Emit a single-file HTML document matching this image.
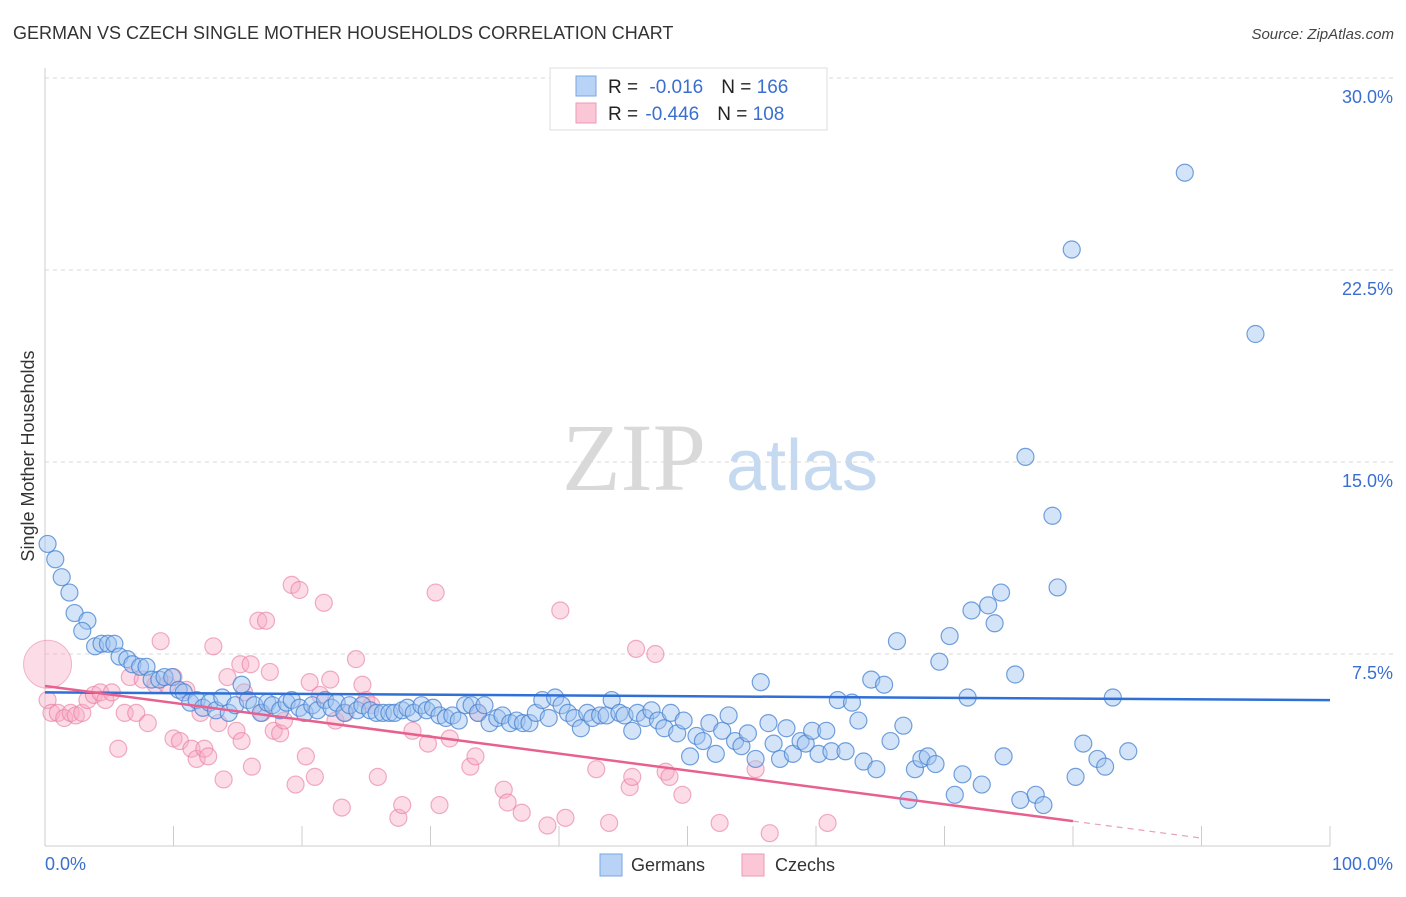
<!DOCTYPE html>
<html><head><meta charset="utf-8"><style>
body{margin:0;background:#fff;font-family:"Liberation Sans",sans-serif}
</style></head><body>
<svg id="chart" width="1406" height="892" xmlns="http://www.w3.org/2000/svg" font-family="Liberation Sans, sans-serif">
<text x="13" y="39" font-size="18" fill="#333">GERMAN VS CZECH SINGLE MOTHER HOUSEHOLDS CORRELATION CHART</text>
<text x="1394" y="39" font-size="15" fill="#444" text-anchor="end" font-style="italic">Source: ZipAtlas.com</text>
<text transform="translate(34,456) rotate(-90)" font-size="18" fill="#333" text-anchor="middle">Single Mother Households</text>
<g>
<text x="634" y="490" font-size="96" fill="#d9d9d9" font-family="Liberation Serif, serif" text-anchor="middle">ZIP</text>
<text x="802" y="490" font-size="72" fill="#c5d9f0" text-anchor="middle">atlas</text>
</g>
<g id="grid"></g><g id="axes"></g><g id="pink"></g><g id="blue"></g><g id="trends"></g>
<g>
<rect x="550" y="68" width="277" height="62" fill="#fff" stroke="#ddd"/>
<rect x="576" y="76" width="20" height="20" fill="#b8d3f5" stroke="#7aa6e0"/>
<rect x="576" y="103" width="20" height="20" fill="#fbc7d6" stroke="#ee9ab5"/>
<text x="608" y="93" font-size="19" fill="#222">R = <tspan fill="#3a6fd0" dx="6">-0.016</tspan><tspan dx="18">N = </tspan><tspan fill="#3a6fd0">166</tspan></text>
<text x="608" y="120" font-size="19" fill="#222">R = <tspan fill="#3a6fd0" dx="2">-0.446</tspan><tspan dx="18">N = </tspan><tspan fill="#3a6fd0">108</tspan></text>
</g>
<g>
<rect x="600" y="854" width="22" height="22" fill="#b8d3f5" stroke="#7aa6e0"/>
<text x="631" y="871" font-size="18" fill="#333">Germans</text>
<rect x="742" y="854" width="22" height="22" fill="#fbc7d6" stroke="#ee9ab5"/>
<text x="775" y="871" font-size="18" fill="#333">Czechs</text>
</g>
</svg>
<script>
const yTicks=[7.5,15,22.5,30];
const yTickLabels=["7.5%","15.0%","22.5%","30.0%"];
const xLabels=["0.0%","100.0%"];
const blueX=[0.2,0.8,1.3,1.9,2.3,3.3,2.9,3.9,4.4,4.9,5.4,5.8,6.4,6.8,7.4,7.9,8.3,8.9,9.3,9.9,10.4,10.8,11.3,11.8,12.3,12.8,13.3,13.8,14.3,14.8,15.3,15.8,16.3,16.8,17.3,17.7,18.3,18.8,19.2,19.8,20.2,20.8,21.2,21.8,22.3,22.7,23.3,23.7,24.3,24.7,25.3,25.8,26.3,26.8,27.2,27.8,28.2,28.7,29.3,29.7,30.2,30.7,31.2,31.7,32.2,32.7,33.2,33.7,34.2,34.6,35.2,35.6,36.2,36.7,37.2,37.7,38.2,38.7,39.2,39.7,40.2,40.7,41.2,41.7,42.2,42.6,43.2,43.7,44.1,44.7,45.1,45.7,46.1,46.7,47.2,47.7,48.2,48.7,49.2,49.7,50.2,50.7,51.2,51.7,52.2,52.7,53.2,53.7,54.2,54.7,55.3,55.7,56.3,56.7,57.2,57.7,58.2,58.8,59.2,59.7,60.2,60.8,61.2,61.7,62.3,62.8,63.3,63.7,64.3,64.7,65.3,65.8,66.3,66.8,67.2,67.7,68.2,68.7,69.3,69.6,70.4,70.8,71.4,71.8,72.1,72.9,73.4,73.9,74.4,74.6,75.5,75.9,76.3,77.1,77.7,78.4,78.8,80.2,80.8,81.9,82.5,83.1,84.3,79.9,88.7,94.2];
const blueY=[11.8,11.2,10.5,9.9,9.1,8.8,8.4,7.8,7.9,7.9,7.9,7.4,7.3,7.1,7.0,7.0,6.5,6.5,6.6,6.6,6.1,6.0,5.6,5.7,5.4,5.6,5.3,5.8,5.2,5.5,6.3,5.7,5.5,5.2,5.6,5.5,5.3,5.6,5.7,5.4,5.2,5.5,5.3,5.7,5.4,5.6,5.2,5.5,5.3,5.5,5.3,5.2,5.2,5.2,5.2,5.3,5.4,5.2,5.5,5.3,5.4,5.1,5.0,5.1,4.9,5.5,5.5,5.2,5.5,4.8,5.0,5.1,4.8,4.9,4.8,4.8,5.2,5.7,5.0,5.8,5.5,5.2,5.0,4.6,5.2,5.0,5.1,5.1,5.7,5.2,5.1,4.5,5.2,5.0,5.3,4.9,4.6,5.2,4.4,4.9,3.5,4.3,4.1,4.8,3.6,4.5,5.1,4.1,3.9,4.4,3.4,6.4,4.8,4.0,3.4,4.6,3.6,4.1,4.0,4.5,3.6,4.5,3.7,5.7,3.7,5.6,4.9,3.3,6.5,3.0,6.3,4.1,8.0,4.7,1.8,3.0,3.4,3.5,3.2,7.2,8.2,2.0,2.8,5.8,9.2,2.4,9.4,8.7,9.9,3.5,6.7,1.8,15.2,2.0,1.6,12.9,10.1,2.7,4.0,3.4,3.1,5.8,3.7,23.3,26.3,20.0];
const pinkX=[0.2,0.5,1.0,1.5,2.0,2.4,2.9,3.3,3.8,4.3,4.7,5.2,5.7,6.2,6.6,7.1,7.6,8.0,8.6,9.0,9.5,10.0,10.0,10.5,11.0,11.4,11.8,12.1,12.4,12.7,13.1,13.5,13.9,14.2,14.9,15.3,15.2,15.5,16.0,16.1,16.6,17.2,16.9,17.5,17.8,18.3,18.6,19.2,19.8,19.5,20.3,20.6,21.0,21.4,21.7,22.2,22.6,23.1,23.4,24.2,24.7,25.0,25.4,25.9,27.5,27.8,28.6,29.8,30.4,30.7,31.5,33.1,33.5,33.7,35.7,36.0,37.1,39.1,40.1,40.5,42.9,43.9,45.5,45.7,46.0,47.5,48.3,48.6,49.6,52.5,55.3,56.4,60.9];
const pinkY=[5.7,5.2,5.2,5.0,5.2,5.1,5.2,5.7,5.9,6.0,5.7,6.0,3.8,5.2,6.6,5.2,6.5,4.8,6.3,8.0,6.3,6.6,4.2,4.1,6.1,3.8,3.4,5.2,3.8,3.5,7.8,4.8,2.6,6.6,4.5,4.1,7.1,6.0,7.1,3.1,8.8,8.8,5.2,6.8,4.5,4.4,4.9,10.2,10.0,2.4,3.5,6.4,2.7,5.9,9.5,6.5,4.9,1.5,5.2,7.3,6.3,5.7,5.5,2.7,1.1,1.6,4.5,4.0,9.9,1.6,4.2,3.1,3.5,5.2,2.2,1.7,1.3,0.8,9.2,1.1,3.0,0.9,2.3,2.7,7.7,7.5,2.9,2.7,2.0,0.9,3.0,0.5,0.9];
const bigPinkX=[0.2], bigPinkY=[7.1];
const blueTrend=[6.0,5.7];          // y at x=0 and x=100
const pinkTrend=[6.25,-0.35];       // y at x=0 and x=100
const pinkSolidEnd=80, pinkDashEnd=90;

const X0=45,X1=1330,Y0=846,PX=25.6;
const sx=v=>X0+(X1-X0)*v/100;
const sy=v=>Y0-v*PX;
const NS="http://www.w3.org/2000/svg";
function mk(tag,attrs,parent){const e=document.createElementNS(NS,tag);for(const k in attrs)e.setAttribute(k,attrs[k]);parent.appendChild(e);return e;}
const grid=document.getElementById('grid'),axes=document.getElementById('axes');
yTicks.forEach((t,i)=>{
  const l=mk('line',{x1:X0,x2:1394,y1:sy(t),y2:sy(t),stroke:'#d8d8d8','stroke-dasharray':'4,4'},grid);
  
  
  const tx=mk('text',{x:1393,y:sy(t)+25,'font-size':18,fill:'#3a6fd0','text-anchor':'end'},grid);
  tx.textContent=yTickLabels[i];
  
  
});
const ya=mk('line',{x1:X0,x2:X0,y1:68,y2:Y0,stroke:'#ccc'},axes);


const xa=mk('line',{x1:X0,x2:X1,y1:Y0,y2:Y0,stroke:'#ccc'},axes);


for(let i=1;i<=10;i++){const t=mk('line',{x1:sx(i*10),x2:sx(i*10),y1:Y0-20,y2:Y0,stroke:'#ccc'},axes);
  
  }
[[0,'start'],[100,'end']].forEach((p,i)=>{const t=mk('text',{x:i?1393:45,y:870,'font-size':18,fill:'#3a6fd0','text-anchor':p[1]},axes);t.textContent=xLabels[i];
  
  });
const pg=document.getElementById('pink'),bg=document.getElementById('blue');
pinkX.forEach((x,i)=>{const c=mk('circle',{cx:sx(x),cy:sy(pinkY[i]),r:8.5,fill:'rgba(248,170,195,0.4)',stroke:'rgba(232,120,160,0.6)','stroke-width':1.2},pg);
  
  });
bigPinkX.forEach((x,i)=>{const c=mk('circle',{cx:sx(x),cy:sy(bigPinkY[i]),r:24,fill:'rgba(248,170,195,0.4)',stroke:'rgba(232,120,160,0.5)'},pg);
  
  });
blueX.forEach((x,i)=>{const c=mk('circle',{cx:sx(x),cy:sy(blueY[i]),r:8.5,fill:'rgba(160,195,240,0.45)',stroke:'rgba(70,130,210,0.75)','stroke-width':1.2},bg);
  
  });
const tg=document.getElementById('trends');
const py=x=>pinkTrend[0]+(pinkTrend[1]-pinkTrend[0])*x/100;
const bt=mk('line',{x1:sx(0),y1:sy(blueTrend[0]),x2:sx(100),y2:sy(blueTrend[1]),stroke:'#2f6fd6','stroke-width':2.5},tg);


const pt=mk('line',{x1:sx(0),y1:sy(py(0)),x2:sx(pinkSolidEnd),y2:sy(py(pinkSolidEnd)),stroke:'#e8608f','stroke-width':2.5},tg);


const pd=mk('line',{x1:sx(pinkSolidEnd),y1:sy(py(pinkSolidEnd)),x2:sx(pinkDashEnd),y2:sy(py(pinkDashEnd)),stroke:'#e8a0b8','stroke-width':1.2,'stroke-dasharray':'6,5'},tg);


</script>
</body></html>
